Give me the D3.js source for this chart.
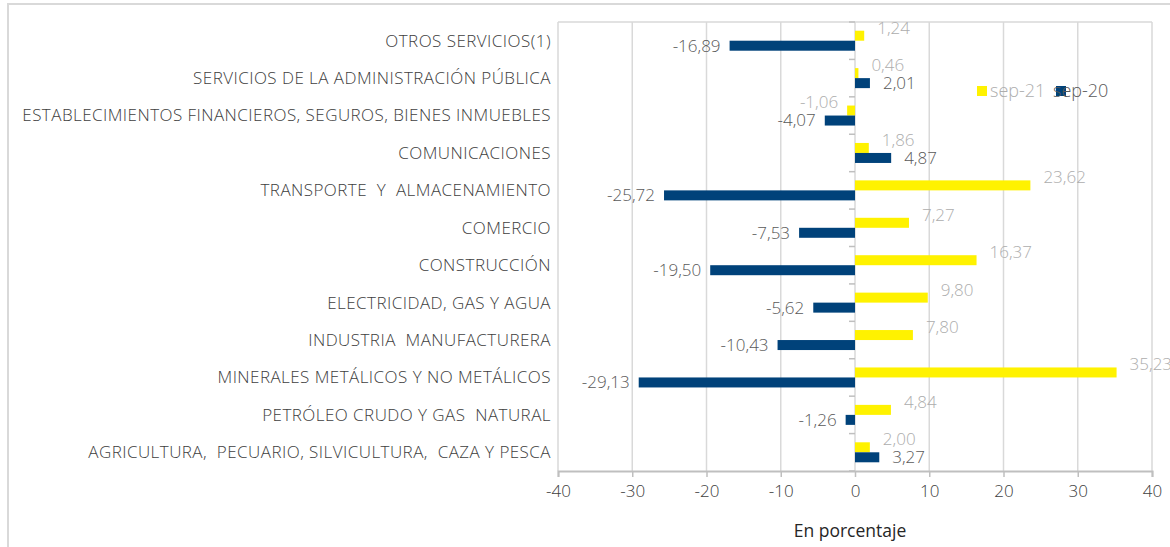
<!DOCTYPE html>
<html>
<head>
<meta charset="utf-8">
<script src="https://cdn.jsdelivr.net/npm/d3@7"></script>
<style>
  body { margin: 0; background: #fff; }
  svg { display: block; font-family: "Open Sans", "Noto Sans", sans-serif; font-weight: 300; }
</style>
</head>
<body>
<svg id="chart"></svg>
<script>
// sectores (de arriba hacia abajo)
var categories = [
  "OTROS SERVICIOS(1)",
  "SERVICIOS DE LA ADMINISTRACIÓN PÚBLICA",
  "ESTABLECIMIENTOS FINANCIEROS, SEGUROS, BIENES INMUEBLES",
  "COMUNICACIONES",
  "TRANSPORTE  Y  ALMACENAMIENTO",
  "COMERCIO",
  "CONSTRUCCIÓN",
  "ELECTRICIDAD, GAS Y AGUA",
  "INDUSTRIA  MANUFACTURERA",
  "MINERALES METÁLICOS Y NO METÁLICOS",
  "PETRÓLEO CRUDO Y GAS  NATURAL",
  "AGRICULTURA,  PECUARIO, SILVICULTURA,  CAZA Y PESCA"
];
var sep21 = [1.24, 0.46, -1.06, 1.86, 23.62, 7.27, 16.37, 9.80, 7.80, 35.23, 4.84, 2.00];
var sep20 = [-16.89, 2.01, -4.07, 4.87, -25.72, -7.53, -19.50, -5.62, -10.43, -29.13, -1.26, 3.27];
var seriesNames = ["sep-21", "sep-20"];
var xTicks = [-40, -30, -20, -10, 0, 10, 20, 30, 40];
var axisTitle = "En porcentaje";

var width = 1170, height = 547;
var margin = {top: 22, right: 18, bottom: 76, left: 558};

var svg = d3.select("#chart")
  .attr("width", width)
  .attr("height", height);

// marco exterior
svg.append("rect")
  .attr("x", 8).attr("y", 4)
  .attr("width", width + 10).attr("height", height + 10)
  .attr("fill", "none")
  .attr("stroke", "#d9d9d9")
  .attr("stroke-width", 2);

var x = d3.scaleLinear()
  .domain([-40, 40])
  .range([margin.left, width - margin.right]);

var y = d3.scaleBand()
  .domain(categories)
  .range([margin.top, height - margin.bottom]);

var loc = d3.formatLocale({decimal: ",", thousands: ".", grouping: [3], currency: ["", ""], minus: "-"});
var fmt = loc.format(".2f");

// lineas de cuadricula
svg.append("g")
  .selectAll("line")
  .data(xTicks)
  .join("line")
    .attr("x1", d => x(d)).attr("x2", d => x(d))
    .attr("y1", margin.top).attr("y2", height - margin.bottom)
    .attr("stroke", "#d9d9d9")
    .attr("stroke-width", 1.5);

svg.append("line")
  .attr("x1", x(-40)).attr("x2", x(40))
  .attr("y1", margin.top).attr("y2", margin.top)
  .attr("stroke", "#d9d9d9")
  .attr("stroke-width", 1.5);

// eje x
var xAxis = svg.append("g")
  .attr("transform", "translate(0," + (height - margin.bottom) + ")")
  .call(d3.axisBottom(x).tickValues(xTicks).tickSize(6).tickPadding(8).tickFormat(loc.format("d")));
xAxis.select(".domain").attr("stroke", "#bfbfbf").attr("stroke-width", 2);
xAxis.selectAll(".tick line").attr("stroke", "#bfbfbf").attr("stroke-width", 1.5);
xAxis.selectAll(".tick text")
  .attr("fill", "#404040")
  .attr("font-size", 17)
  .attr("font-weight", 300)
  .attr("font-family", "Open Sans, Noto Sans, sans-serif");

// marcas del eje de categorias en el cero
var bounds = categories.map(c => y(c)).concat([y.range()[1]]);
svg.append("g")
  .selectAll("line")
  .data(bounds)
  .join("line")
    .attr("x1", x(0) - 6).attr("x2", x(0))
    .attr("y1", d => d).attr("y2", d => d)
    .attr("stroke", "#bfbfbf")
    .attr("stroke-width", 1.5);

// etiquetas de categorias
var maxLabel = margin.left - 26;
svg.append("g")
  .selectAll("text")
  .data(categories)
  .join("text")
    .attr("x", margin.left - 7)
    .attr("y", d => y(d) + y.bandwidth() / 2)
    .attr("dy", "0.35em")
    .attr("text-anchor", "end")
    .attr("font-size", 17)
    .attr("letter-spacing", 0.45)
    .attr("fill", "#404040")
    .style("white-space", "pre")
    .text(d => d)
    .each(function() {
      // la etiqueta larga se ajusta al ancho disponible
      var w = this.getComputedTextLength();
      if (w > maxLabel) {
        d3.select(this).attr("textLength", maxLabel).attr("lengthAdjust", "spacingAndGlyphs");
      }
    });

var barH = 10;
var series = [
  {name: seriesNames[0], values: sep21, color: "#fff200", label: "#adadad", off: -barH, ldy: -8},
  {name: seriesNames[1], values: sep20, color: "#00427a", label: "#595959", off: 0, ldy: 0}
];

series.forEach(function(s) {
  var rows = categories.map((c, i) => ({cat: c, v: s.values[i]}));
  svg.append("g")
    .selectAll("rect")
    .data(rows)
    .join("rect")
      .attr("x", d => x(Math.min(0, d.v)))
      .attr("width", d => Math.abs(x(d.v) - x(0)))
      .attr("y", d => y(d.cat) + y.bandwidth() / 2 + s.off)
      .attr("height", barH)
      .attr("fill", s.color);

  svg.append("g")
    .selectAll("text")
    .data(rows)
    .join("text")
      .attr("x", d => d.v >= 0 ? x(d.v) + 13 : x(d.v) - 9)
      .attr("y", d => y(d.cat) + y.bandwidth() / 2 + s.off + barH / 2 + s.ldy)
      .attr("dy", "0.35em")
      .attr("text-anchor", d => d.v >= 0 ? "start" : "end")
      .attr("font-size", 17)
      .attr("fill", s.label)
      .text(d => fmt(d.v));
});

// leyenda
var legend = svg.append("g").attr("transform", "translate(977,91)");
legend.append("rect").attr("x", 0).attr("y", -5).attr("width", 10).attr("height", 10).attr("fill", series[0].color);
legend.append("text").attr("x", 13).attr("dy", "0.35em").attr("font-size", 18).attr("fill", series[0].label).text(series[0].name);
legend.append("rect").attr("x", 79).attr("y", -5).attr("width", 10).attr("height", 10).attr("fill", series[1].color);
legend.append("text").attr("x", 76).attr("dy", "0.35em").attr("font-size", 18).attr("fill", series[1].label).text(series[1].name);

// titulo del eje
svg.append("text")
  .attr("x", x(0) - 5)
  .attr("y", 531)
  .attr("dy", "0.35em")
  .attr("text-anchor", "middle")
  .attr("font-size", 17.5)
  .attr("font-weight", 400)
  .attr("fill", "#262626")
  .text(axisTitle);
</script>
</body>
</html>
